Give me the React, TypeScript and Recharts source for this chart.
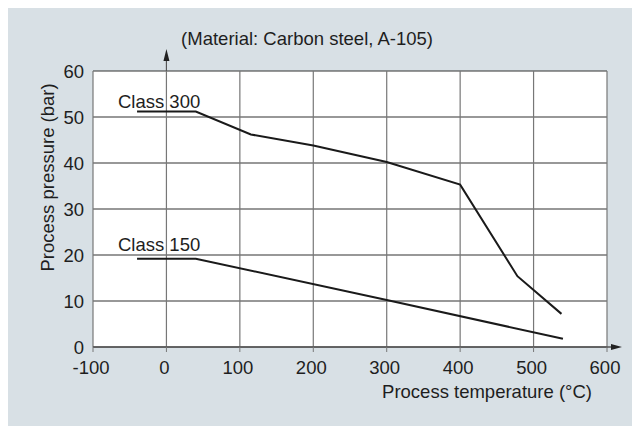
import React from "react";
import { LineChart, Line, XAxis, YAxis, CartesianGrid, ReferenceDot } from "recharts";

// Class 300 rating curve (temperature °C -> pressure bar)
const temps300 = [-40, 40, 115, 200, 300, 400, 478, 538];
const pressure300 = [51.2, 51.2, 46.2, 43.8, 40.2, 35.3, 15.4, 7.2];
// Class 150 rating curve
const temps150 = [-40, 40, 300, 540];
const pressure150 = [19.2, 19.2, 10.2, 1.8];

const xTicks = [-100, 0, 100, 200, 300, 400, 500, 600];
const yTicks = [0, 10, 20, 30, 40, 50, 60];

const class300 = temps300.map((t, i) => ({ t, p: pressure300[i] }));
const class150 = temps150.map((t, i) => ({ t, p: pressure150[i] }));

const font = "'Liberation Sans', Arial, sans-serif";
const textColor = "#1e1e1e";
const fs = 18.5;

const labelText = (text: string) => (props: any) => (
    <text x={props.cx} y={props.cy} textAnchor="start" fontSize={fs} fill={textColor} fontFamily={font}>
        {text}
    </text>
);

const yArrow = (props: any) => (
    <g>
        <line x1={props.cx} y1={props.cy} x2={props.cx} y2={props.cy - 14} stroke="#555" strokeWidth={1.2} />
        <path d={`M${props.cx - 3},${props.cy - 10} L${props.cx},${props.cy - 22} L${props.cx + 3},${props.cy - 10} Z`} fill="#222" />
    </g>
);

const xArrow = (props: any) => (
    <g>
        <line x1={props.cx} y1={props.cy} x2={props.cx + 6} y2={props.cy} stroke="#555" strokeWidth={1.5} />
        <path d={`M${props.cx + 4},${props.cy - 3} L${props.cx + 15},${props.cy} L${props.cx + 4},${props.cy + 3} Z`} fill="#222" />
    </g>
);

export default function App() {
    return (
        <div style={{ width: 632, height: 418, background: "#d8e0e5" }}>
            <LineChart width={632} height={418} margin={{ top: 63, right: 33, left: 0, bottom: 39 }}>
                <CartesianGrid vertical={false} stroke="#333" strokeWidth={1.2} fill="#fff" />
                <CartesianGrid horizontal={false} stroke="#777" strokeWidth={1.2} />
                <XAxis
                    dataKey="t"
                    type="number"
                    domain={[-100, 600]}
                    ticks={xTicks}
                    height={40}
                    axisLine={{ stroke: "#555", strokeWidth: 1.5 }}
                    tickLine={{ stroke: "#777" }}
                    tickSize={5}
                    tickMargin={9}
                    tick={{ fontSize: fs, fill: textColor, fontFamily: font, dx: -2 }}
                    label={{
                        content: () => (
                            <text x={584} y={390} textAnchor="end" fontSize={fs} fill={textColor} fontFamily={font}>
                                Process temperature (°C)
                            </text>
                        ),
                    }}
                />
                <YAxis
                    dataKey="p"
                    type="number"
                    domain={[0, 60]}
                    ticks={yTicks}
                    width={85}
                    axisLine={false}
                    tickLine={false}
                    tickSize={0}
                    tickMargin={9}
                    tick={{ fontSize: fs, fill: textColor, fontFamily: font }}
                    label={{
                        content: () => (
                            <text x={45.5} y={263.5} transform="rotate(-90 45.5 263.5)" textAnchor="start" fontSize={fs} fill={textColor} fontFamily={font}>
                                Process pressure (bar)
                            </text>
                        ),
                    }}
                />
                <Line data={class300} dataKey="p" stroke="#1a1a1a" strokeWidth={2} dot={false} isAnimationActive={false} />
                <Line data={class150} dataKey="p" stroke="#1a1a1a" strokeWidth={2} dot={false} isAnimationActive={false} />
                <ReferenceDot x={0} y={60} r={0} ifOverflow="visible" shape={yArrow} />
                <ReferenceDot x={600} y={0} r={0} ifOverflow="visible" shape={xArrow} />
                <ReferenceDot x={-66} y={51.9} r={0} ifOverflow="visible" shape={labelText("Class 300")} />
                <ReferenceDot x={-66} y={20.9} r={0} ifOverflow="visible" shape={labelText("Class 150")} />
                <ReferenceDot x={20} y={65.65} r={0} ifOverflow="visible" shape={labelText("(Material: Carbon steel, A-105)")} />
            </LineChart>
        </div>
    );
}
